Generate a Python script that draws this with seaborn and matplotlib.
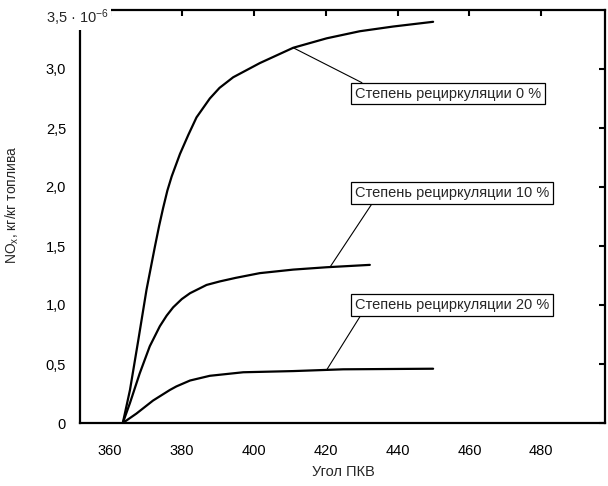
import numpy as np
import pandas as pd
import matplotlib
matplotlib.use("Agg")
import matplotlib.pyplot as plt
import seaborn as sns
from matplotlib.ticker import FixedLocator

# ---- data ----
angle_0 = [363.6, 365.6, 367.9, 370.2, 372.5, 373.7, 374.8, 376.0, 377.2, 379.5, 381.8, 384.1, 387.8,
           390.5, 394.3, 401.7, 411.0, 420.3, 429.5, 438.8, 449.9]
nox_0 = [0.0, 0.28, 0.70, 1.13, 1.49, 1.67, 1.82, 1.97, 2.09, 2.28, 2.44, 2.59, 2.75,
         2.84, 2.93, 3.05, 3.18, 3.26, 3.32, 3.36, 3.40]

angle_10 = [363.6, 365.6, 368.3, 371.1, 373.9, 375.8, 377.6, 380.0, 382.3, 386.9, 390.6, 395.0,
            401.7, 411.0, 420.3, 432.3]
nox_10 = [0.0, 0.17, 0.42, 0.65, 0.82, 0.91, 0.98, 1.05, 1.10, 1.17, 1.20, 1.23,
          1.27, 1.30, 1.32, 1.34]

angle_20 = [363.6, 367.4, 372.0, 376.7, 378.5, 382.3, 387.8, 397.1, 411.0, 424.9, 449.9]
nox_20 = [0.0, 0.08, 0.19, 0.28, 0.31, 0.36, 0.40, 0.43, 0.44, 0.455, 0.46]

series_names = ["Степень рециркуляции 0 %", "Степень рециркуляции 10 %", "Степень рециркуляции 20 %"]
x_ticks = [360, 380, 400, 420, 440, 460, 480]
y_ticks = [0.0, 0.5, 1.0, 1.5, 2.0, 2.5, 3.0]
y_tick_labels = ["0", "0,5", "1,0", "1,5", "2,0", "2,5", "3,0"]
top_label = "3,5 · 10$^{-6}$"
x_label = "Угол ПКВ"
y_label = "NO$_\\mathrm{x}$, кг/кг топлива"

# annotation anchor points on curves and label positions (data units)
anchor_x = [411.0, 421.2, 420.3]
anchor_y = [3.18, 1.32, 0.45]
label_x = [428.2, 428.2, 428.2]
label_y = [2.79, 1.95, 1.00]
rel_pos = [(0.08, 1.0), (0.10, 0.0), (0.04, 0.0)]

# ---- build table ----
frames = []
for name, xs, ys in zip(series_names, [angle_0, angle_10, angle_20], [nox_0, nox_10, nox_20]):
    frames.append(pd.DataFrame({"angle": xs, "nox": ys, "series": name}))
df = pd.concat(frames, ignore_index=True)

sns.set_theme(style="white")
FONT = ["Liberation Sans", "DejaVu Sans"]
plt.rcParams["font.family"] = FONT
plt.rcParams["mathtext.fontset"] = "custom"
plt.rcParams["mathtext.rm"] = "Liberation Sans"
plt.rcParams["mathtext.it"] = "Liberation Sans"

fig = plt.figure(figsize=(6.08, 4.86), dpi=100)
ax = fig.add_axes([80 / 608, 1 - 423 / 486, (605 - 80) / 608, (423 - 10) / 486])

sns.lineplot(data=df, x="angle", y="nox", hue="series", palette=["black"] * 3,
             legend=False, ax=ax, linewidth=1.6, sort=False)
for ln in ax.lines:
    ln.set_solid_joinstyle("round")
    ln.set_solid_capstyle("round")

ax.set_xlim(351.7, 497.7)
ax.set_ylim(0, 3.5)
ax.xaxis.set_major_locator(FixedLocator(x_ticks))
ax.yaxis.set_major_locator(FixedLocator(y_ticks))
ax.set_yticklabels(y_tick_labels)
ax.tick_params(direction="in", length=4, width=1.5, colors="black",
               top=True, right=True, labelsize=10.5)
ax.tick_params(axis="x", pad=15)
ax.tick_params(axis="y", pad=10)
for s in ax.spines.values():
    s.set_visible(True)
    s.set_color("black")
    s.set_linewidth(1.6)

ax.set_xlabel("")
ax.set_ylabel("")
fig.text(343 / 608, 1 - 472 / 486, x_label, ha="center", va="center", fontsize=10.5)
fig.text(12 / 608, 1 - 205 / 486, y_label, ha="center", va="center", rotation=90, fontsize=10)

ax.text(-0.005, 1 - 8 / 413, top_label, transform=ax.transAxes, ha="center", va="center",
        fontsize=10.5, bbox=dict(facecolor="white", edgecolor="none", pad=1.5), zorder=5,
        clip_on=False)

for name, ax_x, ax_y, lx, ly, rp in zip(series_names, anchor_x, anchor_y, label_x, label_y, rel_pos):
    ax.annotate(name, xy=(ax_x, ax_y), xytext=(lx, ly), ha="left", va="center", fontsize=10.5,
                bbox=dict(boxstyle="square,pad=0.25", facecolor="white", edgecolor="black", linewidth=0.9),
                arrowprops=dict(arrowstyle="-", color="black", linewidth=0.8, relpos=rp,
                                shrinkA=0, shrinkB=0))

fig.savefig("out.png", dpi=100)
